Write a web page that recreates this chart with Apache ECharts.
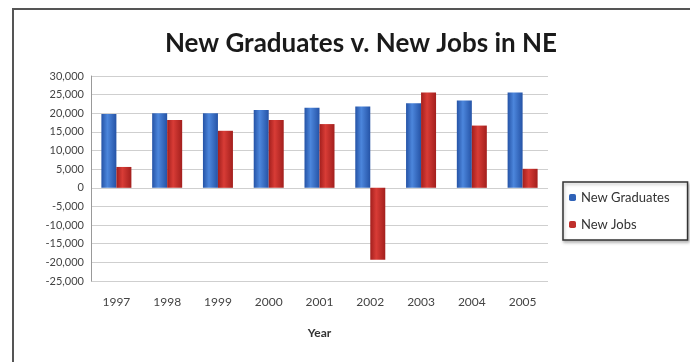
<!DOCTYPE html>
<html>
<head>
<meta charset="utf-8">
<title>New Graduates v. New Jobs in NE</title>
<script src="https://cdn.jsdelivr.net/npm/echarts@6/dist/echarts.min.js"></script>
<style>
  html, body { margin: 0; padding: 0; background: #fff; }
  #chart { width: 690px; height: 362px; }
</style>
</head>
<body>
<div id="chart"></div>
<script>
// values
const years = ['1997', '1998', '1999', '2000', '2001', '2002', '2003', '2004', '2005'];
const newGraduates = [19800, 20000, 20000, 20900, 21500, 21800, 22700, 23400, 25600];
const newJobs = [5600, 18200, 15300, 18200, 17100, -19300, 25600, 16700, 5100];

const fontFamily = 'Lato, "Noto Sans", sans-serif';

function barGradient (dark, light) {
  return new echarts.graphic.LinearGradient(0, 0, 1, 0, [
    { offset: 0, color: dark },
    { offset: 0.4, color: light },
    { offset: 1, color: dark }
  ]);
}

const myChart = echarts.init(document.getElementById('chart'));

myChart.setOption({
  backgroundColor: '#fff',
  animation: false,
  textStyle: { fontFamily: fontFamily },
  graphic: [{
    type: 'rect',
    shape: { x: 13, y: 9, width: 720, height: 400 },
    style: { fill: 'none', stroke: '#555', lineWidth: 2 },
    silent: true
  }],
  title: {
    text: 'New Graduates v. New Jobs in NE',
    left: 356,
    textAlign: 'center',
    top: 26,
    textStyle: {
      fontFamily: fontFamily,
      fontSize: 26,
      fontWeight: 'bold',
      color: '#1a1a1a'
    }
  },
  legend: {
    orient: 'vertical',
    left: 563,
    top: 182,
    padding: [9, 18, 9, 6],
    itemGap: 14,
    itemWidth: 7,
    itemHeight: 7,
    borderColor: '#333',
    borderWidth: 1.5,
    shadowColor: 'rgba(0,0,0,0.25)',
    shadowBlur: 3,
    shadowOffsetX: 1,
    shadowOffsetY: 2,
    backgroundColor: '#fff',
    textStyle: { fontSize: 13, color: '#333', fontFamily: fontFamily },
    data: [
      { name: 'New Graduates', itemStyle: { color: '#2f62b8' } },
      { name: 'New Jobs', itemStyle: { color: '#c0302c' } }
    ]
  },
  grid: {
    left: 91,
    right: 142,
    top: 76,
    bottom: 81
  },
  xAxis: {
    type: 'category',
    data: years,
    name: 'Year',
    nameLocation: 'middle',
    nameGap: 46,
    nameTextStyle: { fontSize: 12, fontWeight: 'bold', color: '#333' },
    axisLine: { show: false },
    axisTick: { show: false },
    axisLabel: { margin: 15, fontSize: 12, color: '#444' }
  },
  yAxis: {
    type: 'value',
    min: -25000,
    max: 30000,
    interval: 5000,
    axisLine: { show: true, lineStyle: { color: '#999' } },
    axisTick: { show: false },
    splitLine: { lineStyle: { color: '#cfcfcf' } },
    axisLabel: {
      margin: 7,
      fontSize: 11,
      color: '#444',
      formatter: function (v) { return v.toLocaleString('en-US'); }
    }
  },
  series: [{
    name: 'New Graduates',
    type: 'bar',
    data: newGraduates,
    barWidth: 15,
    barGap: '0%',
    itemStyle: { color: barGradient('#2553a6', '#4c86dc') }
  }, {
    name: 'New Jobs',
    type: 'bar',
    data: newJobs,
    barWidth: 15,
    itemStyle: { color: barGradient('#a31f1d', '#d83c36') }
  }]
});
</script>
</body>
</html>
